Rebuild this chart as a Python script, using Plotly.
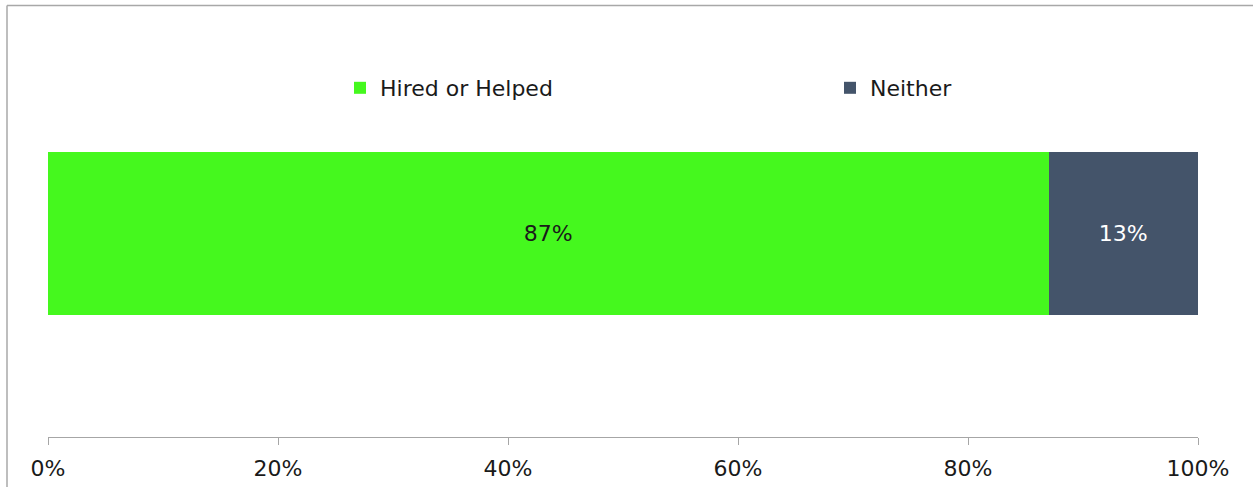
import plotly.graph_objects as go

categories = [""]
series_names = ["Hired or Helped", "Neither"]
hired = [0.87]
neither = [0.13]
colors = ["#45F81E", "#44546A"]
text_colors = ["#1a1a1a", "#ffffff"]
tick_vals = [0, 0.2, 0.4, 0.6, 0.8, 1.0]
tick_text = ["0%", "20%", "40%", "60%", "80%", "100%"]

FONT = "DejaVu Sans"
L, R, T, B = 48, 55, 30, 50
PW, PH = 1253 - L - R, 487 - T - B

fig = go.Figure()
for i, (name, vals, c, tc) in enumerate(zip(series_names, [hired, neither], colors, text_colors)):
    fig.add_trace(go.Bar(
        x=vals, y=categories, orientation="h", name=name,
        marker=dict(color=c, line=dict(width=0)),
        width=0.4,
        text=[f"{v*100:.0f}%" for v in vals],
        textposition="inside", insidetextanchor="middle",
        textfont=dict(color=tc, size=22, family=FONT),
        hoverinfo="skip",
        legend="legend" if i == 0 else "legend2",
    ))

legend_common = dict(
    orientation="h", xanchor="left", yanchor="middle",
    y=(487 - B - 88) / PH,
    font=dict(size=22, color="#1a1a1a", family=FONT),
    bgcolor="rgba(0,0,0,0)",
)

fig.update_layout(
    barmode="stack",
    width=1253, height=487,
    margin=dict(l=L, r=R, t=T, b=B, autoexpand=False),
    paper_bgcolor="white", plot_bgcolor="white",
    font=dict(family=FONT, size=22, color="#1a1a1a"),
    showlegend=True,
    legend=dict(x=(340 - L) / PW, **legend_common),
    legend2=dict(x=(830 - L) / PW, **legend_common),
    xaxis=dict(
        range=[0, 1], tickvals=tick_vals, ticktext=tick_text,
        showgrid=False, zeroline=False,
        showline=True, linecolor="#a6a6a6", linewidth=1,
        ticks="outside", ticklen=7, tickcolor="#a6a6a6", tickwidth=1,
        tickfont=dict(size=22, color="#1a1a1a", family=FONT),
        ticklabelstandoff=5,
        automargin=False,
        fixedrange=True,
    ),
    yaxis=dict(
        range=[-0.5, 0.5], showgrid=False, zeroline=False, showline=False,
        showticklabels=False, ticks="", fixedrange=True, automargin=False,
    ),
    shapes=[
        dict(type="line", xref="paper", yref="paper",
             x0=(7 - L) / PW, x1=(1260 - L) / PW,
             y0=(487 - B - 5.5) / PH, y1=(487 - B - 5.5) / PH,
             line=dict(color="#a8a8a8", width=1.5)),
        dict(type="line", xref="paper", yref="paper",
             x0=(7 - L) / PW, x1=(7 - L) / PW,
             y0=(487 - B - 5.5) / PH, y1=(487 - B - 495) / PH,
             line=dict(color="#a8a8a8", width=1.5)),
    ],
)

fig.write_html("out.html", config={"displayModeBar": False})
